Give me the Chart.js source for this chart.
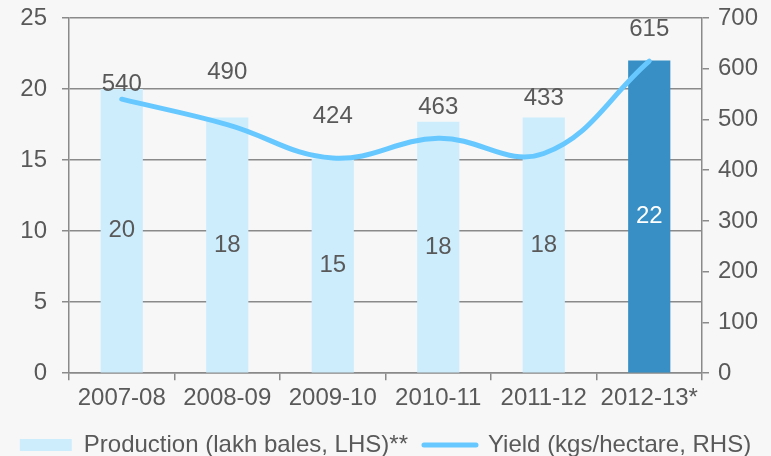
<!DOCTYPE html>
<html>
<head>
<meta charset="utf-8">
<script src="https://cdn.jsdelivr.net/npm/chart.js@4.4.1/dist/chart.umd.min.js"></script>
<style>
    html, body { margin: 0; padding: 0; background: #f7f7f7; }
    canvas { display: block; }
</style>
</head>
<body>
<canvas id="cottonChart" width="771" height="456"></canvas>
<script>
// Data
const seasons = ['2007-08', '2008-09', '2009-10', '2010-11', '2011-12', '2012-13*'];
const production = [20, 18, 15.1, 17.7, 18, 22];      // lakh bales, left axis
const yieldKg = [540, 490, 424, 463, 433, 615];        // kgs/hectare, right axis

const textGrey = '#595959';
const gridGrey = '#8a8a8a';
const barLight = '#cdedfd';
const barDark = '#378fc5';
const lineBlue = '#66c8ff';

Chart.defaults.font.family = '"Liberation Sans", Arial, sans-serif';
Chart.defaults.font.size = 24;
Chart.defaults.color = textGrey;

// Value labels: bar values in the middle of each bar, yield values above the line
const valueLabels = {
    id: 'valueLabels',
    afterDatasetsDraw(chart, args, opts) {
        const ctx = chart.ctx;
        ctx.save();
        ctx.font = '24px "Liberation Sans", Arial, sans-serif';
        ctx.textAlign = 'center';
        ctx.textBaseline = 'middle';
        chart.getDatasetMeta(0).data.forEach((bar, i) => {
            ctx.fillStyle = i === production.length - 1 ? '#ffffff' : textGrey;
            ctx.fillText(Math.round(production[i]), bar.x, (bar.y + bar.base) / 2);
        });
        chart.getDatasetMeta(1).data.forEach((pt, i) => {
            ctx.fillStyle = textGrey;
            ctx.fillText(yieldKg[i], pt.x, pt.y - opts.lift[i]);
        });
        ctx.restore();
    }
};

// fixed side widths, no extra room for the end tick labels
const fixSide = scale => {
    scale.width = 69;
    scale.paddingTop = 0;
    scale.paddingBottom = 0;
};

new Chart(document.getElementById('cottonChart'), {
    type: 'bar',
    data: {
        labels: seasons,
        datasets: [
            {
                label: 'Production (lakh bales, LHS)**',
                data: production,
                yAxisID: 'y',
                order: 2,
                backgroundColor: ctx => ctx.dataIndex === production.length - 1 ? barDark : barLight,
                borderWidth: 0,
                barPercentage: 0.4,
                categoryPercentage: 1
            },
            {
                type: 'line',
                label: 'Yield (kgs/hectare, RHS)',
                data: yieldKg,
                yAxisID: 'y1',
                order: 1,
                borderColor: lineBlue,
                borderWidth: 5,
                borderCapStyle: 'round',
                tension: 0.4,
                pointRadius: 0,
                fill: false
            }
        ]
    },
    options: {
        responsive: false,
        animation: false,
        layout: { padding: { left: 0, right: 0, top: 18, bottom: -11 } },
        plugins: {
            tooltip: { enabled: false },
            valueLabels: { lift: [15, 52, 42, 31, 55, 32] },
            legend: {
                position: 'bottom',
                labels: {
                    usePointStyle: true,
                    pointStyleWidth: 52,
                    boxHeight: 12,
                    padding: 16,
                    generateLabels: () => [
                        { text: 'Production (lakh bales, LHS)**', fillStyle: barLight, strokeStyle: barLight,
                          lineWidth: 0, pointStyle: 'rect', fontColor: textGrey, datasetIndex: 0 },
                        { text: 'Yield (kgs/hectare, RHS)', fillStyle: lineBlue, strokeStyle: lineBlue,
                          lineWidth: 5, lineCap: 'round', pointStyle: 'line', fontColor: textGrey, datasetIndex: 1 }
                    ]
                }
            }
        },
        scales: {
            x: {
                grid: { offset: true, drawOnChartArea: false, color: gridGrey, lineWidth: 1.5, tickLength: 7 },
                border: { color: gridGrey, width: 1.5 },
                ticks: { padding: 4, maxRotation: 0, autoSkip: false }
            },
            y: {
                position: 'left',
                min: 0,
                max: 25,
                ticks: { stepSize: 5, padding: 15 },
                grid: { color: gridGrey, lineWidth: 1.5, tickLength: 7 },
                border: { color: gridGrey, width: 1.5 },
                afterFit: fixSide
            },
            y1: {
                position: 'right',
                min: 0,
                max: 700,
                ticks: { stepSize: 100, padding: 9 },
                grid: { drawOnChartArea: false, color: gridGrey, lineWidth: 1.5, tickLength: 7 },
                border: { color: gridGrey, width: 1.5 },
                afterFit: fixSide
            }
        }
    },
    plugins: [valueLabels]
});
</script>
</body>
</html>
